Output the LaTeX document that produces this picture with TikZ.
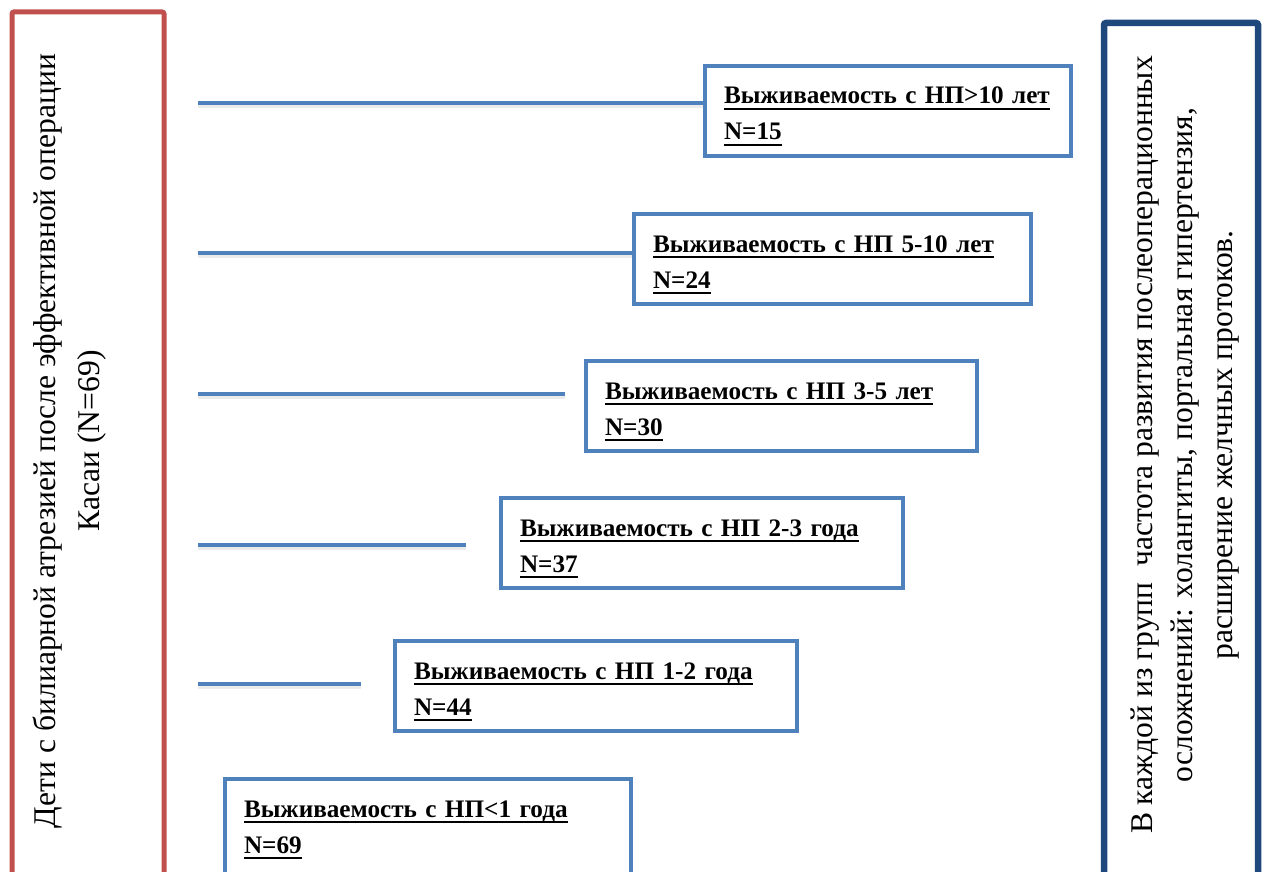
\documentclass[tikz,border=0pt]{standalone}
\usepackage{fontspec}
\setmainfont{Liberation Serif}
\usetikzlibrary{positioning}
\definecolor{kasaired}{HTML}{C0504D}
\definecolor{notedark}{HTML}{1F497D}
\definecolor{survblue}{HTML}{4F81BD}
% thick underline as in the group boxes
\newcommand\survul[1]{\leavevmode\setbox0=\hbox{#1}\copy0\kern-\wd0\rule[-3pt]{\wd0}{1.2pt}}
\tikzset{%
  survbox/.style={% box of one survival group, #1 = text width
    draw=survblue, line width=2pt, rectangle, anchor=north west,
    inner xsep=9.5pt, inner ysep=6pt, text width=#1, align=left,
    text height=13pt, text depth=20pt,
    font=\fontsize{12.6}{18}\selectfont\bfseries
  },
  survline/.style={draw=survblue, line width=2.25pt,
    preaction={draw=black!8, line width=2.5pt, transform canvas={yshift=-1.2pt}}},
  sidetext/.style={rotate=90, align=center, font=\fontsize{15.8}{22}\selectfont}
}
\begin{document}
\begin{tikzpicture}[x=0.5pt, y=-0.5pt]
  \useasboundingbox (0,0) rectangle (1264,872);
  \clip (0,0) rectangle (1264,872);
  % side frames, cut by the page bottom
  \draw[kasaired, line width=2.5pt, rounded corners=1pt] (12,12) rectangle (164,900);
  \draw[notedark, line width=3.25pt, rounded corners=1pt] (1104,23) rectangle (1258,900);
  \node[sidetext] (kids) at (70,441)
    {Дети с билиарной атрезией после эффективной операции\\Касаи (N=69)};
  \node[sidetext, font=\fontsize{15.8}{20}\selectfont] (note) at (1185,445)
    {В каждой из групп\ \ частота развития послеоперационных\\
     осложнений: холангиты, портальная гипертензия,\\
     расширение желчных протоков.};
  % survival groups
  \node[survbox=164pt] (g10) at (703,64)
    {\survul{Выживаемость с НП>10 лет}\\\survul{N=15}};
  \node[survbox=179.5pt] (g5) at (632,212)
    {\survul{Выживаемость с НП 5-10 лет}\\\survul{N=24}};
  \node[survbox=176.5pt] (g3) at (584,359)
    {\survul{Выживаемость с НП 3-5 лет}\\\survul{N=30}};
  \node[survbox=182pt] (g2) at (499,496)
    {\survul{Выживаемость с НП 2-3 года}\\\survul{N=37}};
  \node[survbox=182pt] (g1) at (393,639)
    {\survul{Выживаемость с НП 1-2 года}\\\survul{N=44}};
  \node[survbox=184pt, text depth=40pt] (g0) at (223,777)
    {\survul{Выживаемость с НП<1 года}\\\survul{N=69}};
  % connectors
  \coordinate (l10) at (198,103);
  \coordinate (l5) at (198,253);
  \coordinate (l3a) at (198,394);
  \coordinate (l3b) at (565,394);
  \coordinate (l2a) at (198,545);
  \coordinate (l2b) at (466,545);
  \coordinate (l1a) at (198,684);
  \coordinate (l1b) at (361,684);
  \draw[survline] (l10) -- (l10 -| g10.west);
  \draw[survline] (l5) -- (l5 -| g5.west);
  \draw[survline] (l3a) -- (l3b);
  \draw[survline] (l2a) -- (l2b);
  \draw[survline] (l1a) -- (l1b);
\end{tikzpicture}
\end{document}
